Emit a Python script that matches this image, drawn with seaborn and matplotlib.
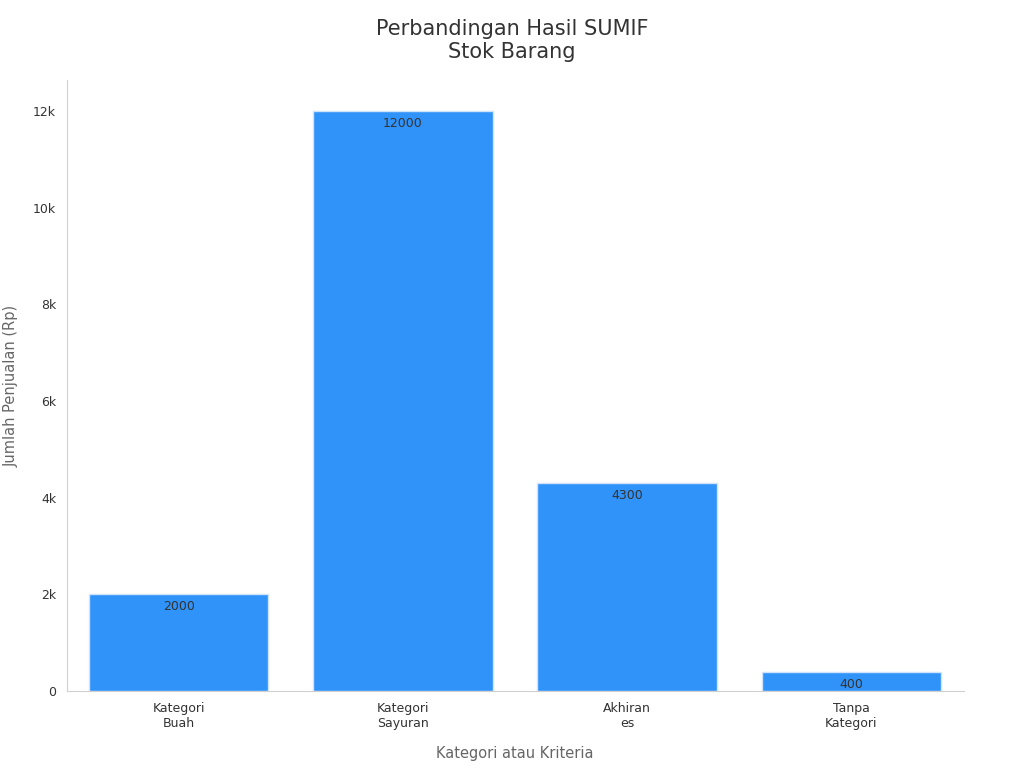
import matplotlib
matplotlib.use("Agg")
import matplotlib.pyplot as plt
import seaborn as sns
from matplotlib.ticker import FuncFormatter

kategori = ["Kategori\nBuah", "Kategori\nSayuran", "Akhiran\nes", "Tanpa\nKategori"]
jumlah = [2000, 12000, 4300, 400]

sns.set_style("white")
plt.rcParams["font.family"] = ["DejaVu Sans"]

fig = plt.figure(figsize=(10.24, 7.68), dpi=100)
ax = fig.add_axes([0.065, 0.10, 0.876, 0.796])

sns.barplot(x=kategori, y=jumlah, color="#2f93f9", saturation=1, width=0.8,
            edgecolor="#cfe4fb", linewidth=1, ax=ax)

for i, v in enumerate(jumlah):
    ax.text(i, v - 120, str(v), ha="center", va="top", fontsize=9, color="#333333")

ax.set_ylim(0, 12640)
ax.set_xlim(-0.5, 3.5)
ax.yaxis.set_major_formatter(FuncFormatter(lambda v, p: "0" if v == 0 else f"{int(v/1000)}k"))
ax.set_yticks([0, 2000, 4000, 6000, 8000, 10000, 12000])
ax.tick_params(axis="both", labelsize=9, colors="#333333", length=4, color="#bbbbbb")
for s in ["top", "right"]:
    ax.spines[s].set_visible(False)
for s in ["left", "bottom"]:
    ax.spines[s].set_color("#d0d0d0")

ax.set_xlabel("Kategori atau Kriteria", fontsize=10.5, color="#666666", labelpad=12)
ax.set_ylabel("Jumlah Penjualan (Rp)", fontsize=10.5, color="#666666", labelpad=10)
fig.suptitle("Perbandingan Hasil SUMIF\nStok Barang", fontsize=15, color="#333333", y=0.975)

fig.savefig("out.png", dpi=100)
